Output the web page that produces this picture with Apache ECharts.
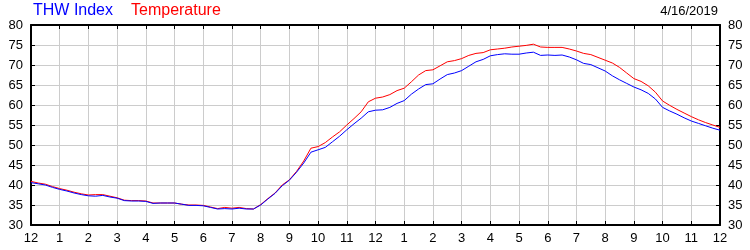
<!DOCTYPE html>
<html>
<head>
<meta charset="utf-8">
<script src="https://cdn.jsdelivr.net/npm/echarts@6/dist/echarts.min.js"></script>
<style>html,body{margin:0;padding:0;background:#fff}#c{width:750px;height:250px}</style>
</head>
<body>
<div id="c"></div>
<script>
// hours after midnight, 15-minute steps (0 .. 24)
var hours = [];
for (var i = 0; i <= 96; i++) hours.push(i / 4);

var tickLabels = ['12','1','2','3','4','5','6','7','8','9','10','11','12','1','2','3','4','5','6','7','8','9','10','11','12'];

var temperature = [
 40.9,40.5,40.2,39.6,39.1,38.7,38.2,37.8,37.5,37.6,37.6,37.2,
 36.8,36.2,36.1,36.1,36.0,35.5,35.5,35.5,35.5,35.2,35.0,35.0,
 34.9,34.5,34.1,34.4,34.2,34.4,34.1,34.0,35.1,36.6,38.0,40.0,
 41.3,43.4,46.0,49.2,49.6,50.6,52.0,53.3,55.0,56.6,58.3,60.8,
 61.7,62.0,62.6,63.6,64.2,65.8,67.5,68.6,68.8,69.8,70.8,71.1,
 71.6,72.4,72.9,73.1,73.8,74.0,74.2,74.5,74.7,74.9,75.2,74.5,
 74.4,74.4,74.4,74.0,73.5,72.9,72.6,71.9,71.2,70.5,69.4,68.0,
 66.6,65.9,64.8,63.2,61.0,59.9,58.9,58.0,57.1,56.3,55.6,55.0,
 54.4
];
var thwIndex = [
 40.6,40.3,40.0,39.4,38.9,38.5,38.0,37.6,37.3,37.2,37.4,37.0,
 36.7,36.1,36.0,36.0,35.9,35.4,35.5,35.5,35.5,35.2,34.9,34.9,
 34.8,34.4,34.0,34.1,34.0,34.2,34.0,34.0,35.0,36.5,37.9,39.8,
 41.2,43.2,45.5,48.2,48.8,49.4,50.8,52.2,53.8,55.3,56.7,58.3,
 58.7,58.8,59.4,60.4,61.1,62.7,64.0,65.1,65.3,66.5,67.6,68.0,
 68.6,69.7,70.8,71.4,72.3,72.6,72.8,72.7,72.7,73.0,73.2,72.4,
 72.5,72.4,72.5,72.0,71.3,70.4,70.1,69.3,68.5,67.3,66.3,65.4,
 64.5,63.8,62.9,61.5,59.4,58.5,57.7,56.8,56.0,55.4,54.8,54.2,
 53.7
];
var dateLabel = '4/16/2019';

function pairs(vals) { return vals.map(function (v, i) { return [hours[i], v]; }); }

var font = 'Arial, "Liberation Sans", sans-serif';
var chart = echarts.init(document.getElementById('c'), null, {renderer: 'canvas'});
var axisLine = {show: true, onZero: false, lineStyle: {color: '#000', width: 2}};
var axisTick = {show: true, inside: true, length: 4, lineStyle: {color: '#000', width: 1}};
chart.setOption({
  animation: false,
  backgroundColor: '#fff',
  grid: {left: 31, right: 30, top: 25, bottom: 25, containLabel: false},
  graphic: [
    {type: 'text', left: 33, top: 3, style: {text: 'THW Index', fill: '#0000ff', font: '16px ' + font}},
    {type: 'text', left: 131, top: 3, style: {text: 'Temperature', fill: '#ff0000', font: '16px ' + font}},
    {type: 'text', right: 32, top: 5, style: {text: dateLabel, fill: '#000', font: '13px ' + font}}
  ],
  xAxis: [
    {type: 'value', position: 'bottom', min: 0, max: 24, interval: 1,
     axisLine: axisLine, axisTick: axisTick,
     axisLabel: {color: '#000', fontFamily: font, fontSize: 13, margin: 7, formatter: function (v) { return tickLabels[Math.round(v)]; }},
     splitLine: {show: true, lineStyle: {color: '#cccccc', width: 1}}},
    {type: 'value', position: 'top', min: 0, max: 24, interval: 1,
     axisLine: axisLine, axisTick: axisTick, axisLabel: {show: false}, splitLine: {show: false}}
  ],
  yAxis: [
    {type: 'value', position: 'left', min: 30, max: 80, interval: 5,
     axisLine: axisLine, axisTick: axisTick,
     axisLabel: {color: '#000', fontFamily: font, fontSize: 13, margin: 8},
     splitLine: {show: true, lineStyle: {color: '#cccccc', width: 1}}},
    {type: 'value', position: 'right', min: 30, max: 80, interval: 5,
     axisLine: axisLine, axisTick: axisTick,
     axisLabel: {color: '#000', fontFamily: font, fontSize: 13, margin: 8},
     splitLine: {show: false}}
  ],
  series: [
    {name: 'Temperature', type: 'line', data: pairs(temperature), showSymbol: false, symbol: 'none',
     lineStyle: {color: '#ff0000', width: 1}, z: 2},
    {name: 'THW Index', type: 'line', data: pairs(thwIndex), showSymbol: false, symbol: 'none',
     lineStyle: {color: '#0000ff', width: 1}, z: 3}
  ]
});
</script>
</body>
</html>
